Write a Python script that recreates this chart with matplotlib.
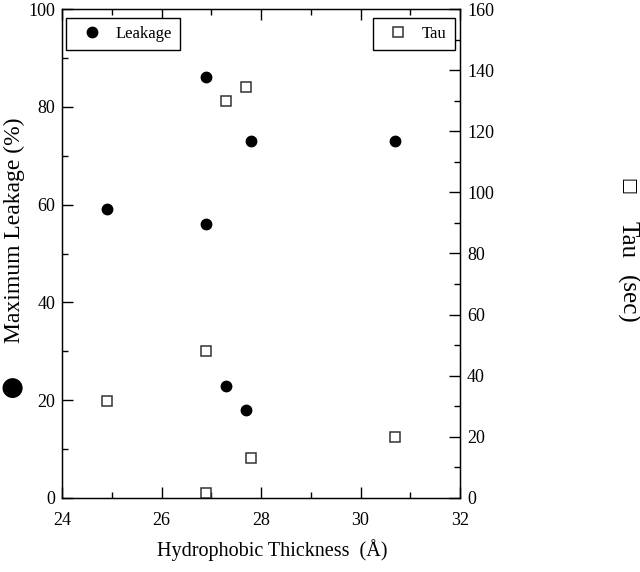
import matplotlib
matplotlib.use("Agg")
import matplotlib.pyplot as plt
from matplotlib.ticker import MultipleLocator

thickness_leak = [24.9, 26.9, 26.9, 27.3, 27.7, 27.8, 30.7]
leakage = [59, 86, 56, 23, 18, 73, 73]
thickness_tau = [24.9, 26.9, 26.9, 27.3, 27.7, 27.8, 30.7]
tau = [31.8, 48, 1.6, 130, 134.5, 13.2, 20]

plt.rcParams['font.family'] = ['Liberation Serif', 'DejaVu Sans']

fig = plt.figure(figsize=(6.4, 5.72), dpi=100)
ax = fig.add_axes([62/640, 1-498/572, 398/640, 489/572])
ax2 = ax.twinx()

l1, = ax.plot(thickness_leak, leakage, 'o', color='black', markersize=7.5, linestyle='none', label='Leakage')
l2, = ax2.plot(thickness_tau, tau, 's', markerfacecolor='white', markeredgecolor='#333333',
               markeredgewidth=1.1, markersize=7, linestyle='none', label='Tau')

ax.set_xlim(24, 32)
ax.set_ylim(0, 100)
ax2.set_ylim(0, 160)
ax.xaxis.set_major_locator(MultipleLocator(2))
ax.xaxis.set_minor_locator(MultipleLocator(1))
ax.yaxis.set_major_locator(MultipleLocator(20))
ax.yaxis.set_minor_locator(MultipleLocator(10))
ax2.yaxis.set_major_locator(MultipleLocator(20))
ax2.yaxis.set_minor_locator(MultipleLocator(10))

ax.tick_params(axis='x', which='both', direction='in', top=True, labelsize=13, pad=10)
ax.tick_params(axis='y', which='both', direction='in', right=False, labelsize=13, pad=5)
ax2.tick_params(axis='y', which='both', direction='in', labelsize=13, pad=5)
for a in (ax, ax2):
    a.tick_params(which='major', length=8, width=1)
    a.tick_params(which='minor', length=4.5, width=1)
for s in ax.spines.values():
    s.set_linewidth(1.0)

ax.set_xlabel('Hydrophobic Thickness  (Å)', fontsize=14.5, labelpad=8)
ax.xaxis.set_label_coords(0.528, -0.085)

fig.text(14/640, 1-230/572, 'Maximum Leakage (%)', rotation=90, fontsize=17,
         ha='center', va='center')
fig.text(12/640, 1-388/572, '●', fontsize=19, ha='center', va='center',
         family=['DejaVu Sans'])
fig.text(627/640, 1-187/572, '□', fontsize=13, ha='center', va='center', rotation=270,
         family=['DejaVu Sans'])
fig.text(627/640, 1-240/572, 'Tau', fontsize=18, ha='center', va='center', rotation=270)
fig.text(627/640, 1-299/572, '(sec)', fontsize=18, ha='center', va='center', rotation=270)

common = dict(frameon=True, fancybox=False, edgecolor='black', fontsize=12,
              borderpad=0.5, handletextpad=0.35, borderaxespad=0, framealpha=1,
              handlelength=2.1)
leg1 = ax.legend(handles=[l1], loc='upper left', bbox_to_anchor=(0.01, 0.982), **common)
leg1.get_frame().set_linewidth(1.0)
leg2 = ax2.legend(handles=[l2], loc='upper right', bbox_to_anchor=(0.987, 0.982), **common)
leg2.get_frame().set_linewidth(1.0)

fig.savefig('out.png', dpi=100)
